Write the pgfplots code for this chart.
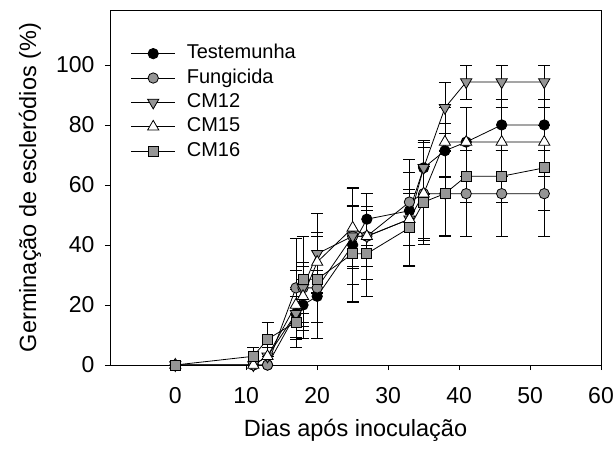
\documentclass[border=0pt]{standalone}
\usepackage{pgfplots}
\pgfplotsset{compat=1.18}
\usepackage{pgfplotstable}
\usepackage{fontspec}
\setmainfont{Liberation Sans}
\definecolor{mgray}{HTML}{959595}
\newcommand{\lf}{\fontsize{20bp}{24bp}\selectfont}

\pgfplotstableread{
x y e
0 0 0
11 0 0
13 0 0
17 17.1 8
18 20 8.6
20 22.9 8.6
25 40 19
27 48.6 8.6
33 51.4 7
35 65.7 8.6
38 71.4 9
41 74.3 11.4
46 80 8.6
52 80 8.6
}\testemunha
\pgfplotstableread{
x y e
0 0 0
11 0 0
13 0 0
17 25.7 16.5
18 25.7 17
20 25.7 17
25 42.9 16
27 42.9 14.3
33 54.3 14.3
35 57.1 17
38 57.1 14.3
41 57.1 14.3
46 57.1 14.3
52 57.1 14.3
}\fungicida
\pgfplotstableread{
x y e
0 0 0
11 0 0
13 2.9 2.9
17 17.1 8.6
18 25.7 8.6
20 37.1 13.4
25 42.9 10
27 42.9 10
33 48.6 8.6
35 65.7 9
38 85.7 8.6
41 94.3 5.7
46 94.3 5.7
52 94.3 5.7
}\cmdoze
\pgfplotstableread{
x y e
0 0 0
11 0 0
13 2.9 2.9
17 20 11.4
18 22.9 10
20 34.3 10
25 45.7 13.5
27 42.9 14.3
33 48.6 15.5
35 57.1 15.5
38 74.3 11.4
41 74.3 11.4
46 74.3 11.4
52 74.3 11.4
}\cmquinze
\pgfplotstableread{
x y e
0 0 0
11 2.9 2.9
13 8.6 5.7
17 14.3 8.6
18 28.6 14.3
20 28.6 14.3
25 37.1 16
27 37.1 14.3
33 45.7 12.8
35 54.3 12
38 57.1 14
41 62.9 8.6
46 62.9 8.6
52 65.7 14.3
}\cmdezesseis

\begin{document}
\begin{tikzpicture}
\begin{axis}[
  scale only axis,
  width=491bp, height=355bp,
  xmin=-9.2, xmax=60, ymin=0, ymax=118.3,
  xtick={0,10,20,30,40,50,60},
  ytick={0,20,40,60,80,100},
  xtick pos=left, ytick pos=left,
  tick align=outside,
  major tick length=5bp,
  every tick/.style={black, line width=0.8bp},
  axis line style={line width=0.8bp},
  /pgf/number format/assume math mode=true,
  ticklabel style={font=\fontsize{23bp}{27bp}\selectfont},
  xticklabel style={yshift=-14bp},
  yticklabel style={xshift=-7bp},
  xlabel={Dias após inoculação},
  ylabel={Germinação de escleródios (\%)},
  every axis x label/.style={at={(axis description cs:0.5,-0.185)}, anchor=center, font=\fontsize{23.5bp}{28bp}\selectfont},
  every axis y label/.style={at={(axis description cs:-0.163,0.5)}, anchor=center, rotate=90, font=\fontsize{23.5bp}{28bp}\selectfont},
  error bars/error bar style={black, line width=0.8bp},
  error bars/error mark options={black, rotate=90, mark size=6bp, line width=0.8bp},
  legend cell align=left,
  legend style={draw=none, fill=none, at={(rel axis cs:0.042,0.912)}, anchor=north west,
    inner sep=0pt, row sep=0pt, column sep=8bp,
    nodes={text height=14bp, text depth=4bp, inner sep=3.2bp}},
  legend image code/.code={\draw[mark repeat=2,mark phase=2,#1] plot coordinates {(0bp,0bp)(22bp,0bp)(44bp,0bp)};},
]
\addplot[black, line width=0.8bp, mark=*, mark size=5.2bp, mark options={solid, draw=black, fill=black},
  error bars/.cd, y dir=both, y explicit] table[x=x, y=y, y error=e] {\testemunha};
\addlegendentry{\lf Testemunha}
\addplot[black, line width=0.8bp, mark=*, mark size=5.2bp, mark options={solid, draw=black, fill=mgray},
  error bars/.cd, y dir=both, y explicit] table[x=x, y=y, y error=e] {\fungicida};
\addlegendentry{\lf Fungicida}
\addplot[black, line width=0.8bp, mark=triangle*, mark size=6.5bp, mark options={solid, draw=black, fill=mgray, rotate=180},
  error bars/.cd, y dir=both, y explicit] table[x=x, y=y, y error=e] {\cmdoze};
\addlegendentry{\lf CM12}
\addplot[black, line width=0.8bp, mark=triangle*, mark size=6.5bp, mark options={solid, draw=black, fill=white},
  error bars/.cd, y dir=both, y explicit] table[x=x, y=y, y error=e] {\cmquinze};
\addlegendentry{\lf CM15}
\addplot[black, line width=0.8bp, mark=square*, mark size=5bp, mark options={solid, draw=black, fill=mgray},
  error bars/.cd, y dir=both, y explicit] table[x=x, y=y, y error=e] {\cmdezesseis};
\addlegendentry{\lf CM16}
\coordinate (bl) at (rel axis cs:0,0);
\coordinate (tr) at (rel axis cs:1,1);
\end{axis}
\pgfresetboundingbox
\path[use as bounding box] ([shift={(-110bp,-90bp)}]bl) rectangle ([shift={(15bp,10bp)}]tr);
\end{tikzpicture}
\end{document}
